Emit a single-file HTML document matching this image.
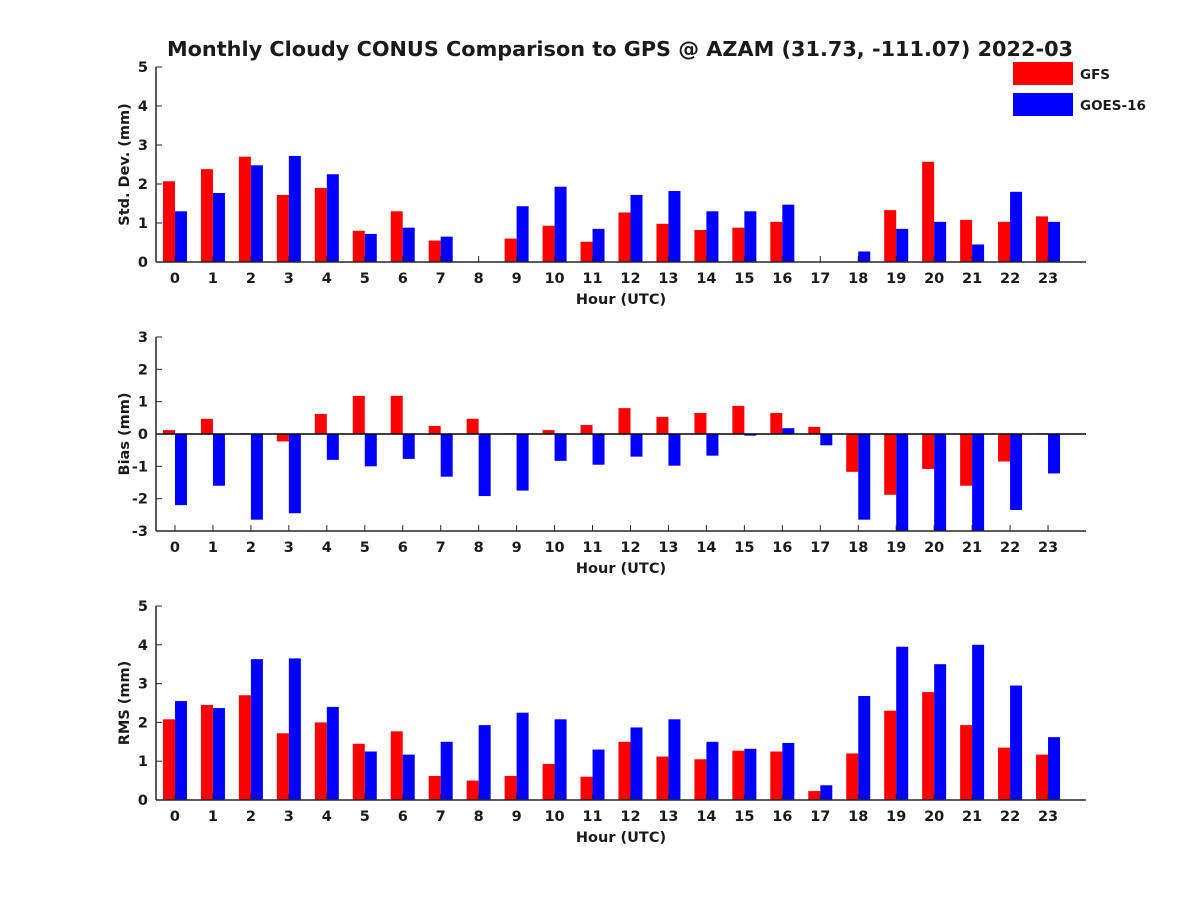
<!DOCTYPE html>
<html><head><meta charset="utf-8"><style>
body{margin:0;background:#fff;}
text{font-family:"DejaVu Sans","Liberation Sans",sans-serif;font-weight:bold;fill:#1a1a1a;}
</style></head><body>
<svg id="c" width="1200" height="900" xmlns="http://www.w3.org/2000/svg">
<rect width="1200" height="900" fill="#fff"/>
<text x="620" y="56" text-anchor="middle" font-size="20.8" fill="#000">Monthly Cloudy CONUS Comparison to GPS @ AZAM (31.73, -111.07) 2022-03</text>
</svg>
<script>
const hours=[0,1,2,3,4,5,6,7,8,9,10,11,12,13,14,15,16,17,18,19,20,21,22,23];
const stdGFS=[2.07,2.38,2.7,1.72,1.9,0.8,1.3,0.55,0,0.6,0.93,0.52,1.27,0.98,0.82,0.88,1.03,0,0,1.33,2.57,1.08,1.03,1.17];
const stdGOES=[1.3,1.77,2.48,2.72,2.25,0.72,0.88,0.65,0,1.43,1.93,0.85,1.72,1.82,1.3,1.3,1.47,0,0.27,0.85,1.03,0.45,1.8,1.03];
const biasGFS=[0.12,0.47,0.02,-0.23,0.62,1.18,1.18,0.25,0.47,0.02,0.12,0.28,0.8,0.53,0.65,0.87,0.65,0.22,-1.17,-1.88,-1.08,-1.6,-0.85,0.02];
const biasGOES=[-2.2,-1.6,-2.65,-2.45,-0.8,-1.0,-0.77,-1.32,-1.92,-1.75,-0.83,-0.95,-0.7,-0.98,-0.67,-0.05,0.18,-0.35,-2.65,-3.4,-3.4,-3.4,-2.35,-1.22];
const rmsGFS=[2.08,2.45,2.7,1.72,2.0,1.45,1.77,0.62,0.5,0.62,0.93,0.6,1.5,1.12,1.05,1.27,1.25,0.23,1.2,2.3,2.78,1.93,1.35,1.17];
const rmsGOES=[2.55,2.37,3.63,3.65,2.4,1.25,1.17,1.5,1.93,2.25,2.08,1.3,1.87,2.08,1.5,1.32,1.47,0.38,2.68,3.95,3.5,4.0,2.95,1.62];
const stdTicks=[0,1,2,3,4,5], biasTicks=[-3,-2,-1,0,1,2,3], rmsTicks=[0,1,2,3,4,5];
const svg=document.getElementById('c');const NS='http://www.w3.org/2000/svg';
function el(t,a,p){const e=document.createElementNS(NS,t);for(const k in a)e.setAttribute(k,a[k]);(p||svg).appendChild(e);return e;}
const X0=156,X1=1086;
const xs=h=>X0+(h+0.5)/24.5*(X1-X0);
function panel(key,top,bot,ymin,ymax,ticks,label,g1,g2){
  const g=el('g',{});
  
  
  const ys=v=>bot-(v-ymin)/(ymax-ymin)*(bot-top);
  const cid='clip'+key;
  const cp=el('clipPath',{id:cid},g);el('rect',{x:X0,y:top,width:X1-X0,height:bot-top},cp);
  const bg=el('g',{'clip-path':'url(#'+cid+')'},g);
  const base=ys(Math.max(0,ymin));
  [[g1,'#ff0000',-12,'gfs'],[g2,'#0000ff',0,'goes']].forEach(([arr,col,off,nm])=>{
    arr.forEach((v,i)=>{
      const x=xs(hours[i])+off, y=ys(v);
      const r=el('rect',{x:x,y:Math.min(y,base),width:12,height:Math.abs(base-y),fill:col},bg);
      
      
    });
  });
  if(ymin<0) el('line',{x1:X0,x2:X1,y1:ys(0),y2:ys(0),stroke:'#000','stroke-width':1.5},g);
  el('line',{x1:X0,x2:X1,y1:bot,y2:bot,stroke:'#262626','stroke-width':1.5},g);
  el('line',{x1:X0,x2:X0,y1:top,y2:bot,stroke:'#262626','stroke-width':1.5},g);
  ticks.forEach(t=>{const y=ys(t);
    el('line',{x1:X0,x2:X0+6,y1:y,y2:y,stroke:'#262626'},g);
    const tx=el('text',{x:X0-8,y:y+5,'text-anchor':'end','font-size':14.5},g);tx.textContent=t;
    });
  hours.forEach(h=>{const x=xs(h);
    el('line',{x1:x,x2:x,y1:bot,y2:bot-6,stroke:'#262626'},g);
    const tx=el('text',{x:x,y:bot+21,'text-anchor':'middle','font-size':14.5},g);tx.textContent=h;
    });
  const xl=el('text',{x:(X0+X1)/2,y:bot+42,'text-anchor':'middle','font-size':14.5},g);xl.textContent='Hour (UTC)';
  
  const yc=(top+bot)/2;
  const yl=el('text',{x:129,y:yc,'text-anchor':'middle','font-size':14.5,transform:'rotate(-90 129 '+yc+')'},g);yl.textContent=label;
  
}
panel('std',67,262,0,5,stdTicks,'Std. Dev. (mm)',stdGFS,stdGOES);
panel('bias',337,531,-3,3,biasTicks,'Bias (mm)',biasGFS,biasGOES);
panel('rms',606,800,0,5,rmsTicks,'RMS (mm)',rmsGFS,rmsGOES);
[['GFS','#ff0000',62],['GOES-16','#0000ff',93]].forEach(([n,c,y])=>{
  const g=el('g',{});
  
  
  el('rect',{x:1013,y:y,width:60,height:23,fill:c},g);
  const t=el('text',{x:1080,y:y+17,'font-size':13.5},g);t.textContent=n;
});
</script>
</body></html>
